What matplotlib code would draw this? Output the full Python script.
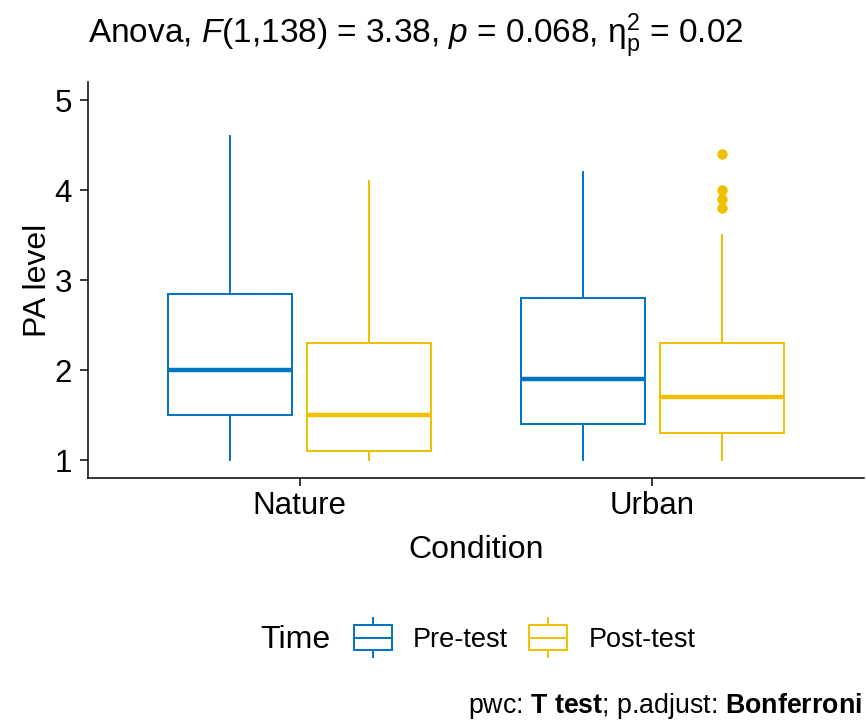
import numpy as np
import matplotlib
matplotlib.use("Agg")
import matplotlib.pyplot as plt
from matplotlib.legend_handler import HandlerBase
from matplotlib.lines import Line2D
from matplotlib.patches import Rectangle

plt.rcParams['font.family'] = ['Liberation Sans', 'DejaVu Sans']
plt.rcParams['mathtext.fontset'] = 'custom'
plt.rcParams['mathtext.rm'] = 'Liberation Sans'
plt.rcParams['mathtext.it'] = 'Liberation Sans:italic'
plt.rcParams['mathtext.bf'] = 'Liberation Sans:bold'

# --- data ---
conditions = ["Nature", "Urban"]
times = ["Pre-test", "Post-test"]
colors = {"Pre-test": "#0073C2", "Post-test": "#EFC000"}

# per condition, per time: whislo, q1, med, q3, whishi
whislo = {"Pre-test": [1.0, 1.0], "Post-test": [1.0, 1.0]}
q1 = {"Pre-test": [1.5, 1.4], "Post-test": [1.1, 1.3]}
med = {"Pre-test": [2.0, 1.9], "Post-test": [1.5, 1.7]}
q3 = {"Pre-test": [2.85, 2.8], "Post-test": [2.3, 2.3]}
whishi = {"Pre-test": [4.6, 4.2], "Post-test": [4.1, 3.5]}
fliers = {"Pre-test": [[], []], "Post-test": [[], [3.8, 3.9, 4.0, 4.4]]}

title = r"Anova, $\mathit{F}$(1,138) = 3.38, $\mathit{p}$ = 0.068, $\mathrm{\eta}_\mathrm{p}^\mathrm{2}$ = 0.02"
caption = r"pwc: $\mathbf{T\ test}$; p.adjust: $\mathbf{Bonferroni}$"

W, H = 866, 722
fig = plt.figure(figsize=(W / 100, H / 100), dpi=100)
ax = fig.add_axes([88 / W, 1 - 478 / H, (864 - 88) / W, (478 - 82) / H])

offsets = {"Pre-test": -0.197, "Post-test": 0.197}
box_w = 0.35
for t in times:
    stats = []
    for i in range(len(conditions)):
        stats.append(dict(whislo=whislo[t][i], q1=q1[t][i], med=med[t][i],
                          q3=q3[t][i], whishi=whishi[t][i], fliers=fliers[t][i]))
    c = colors[t]
    pos = [i + 1 + offsets[t] for i in range(len(conditions))]
    ax.bxp(stats, positions=pos, widths=box_w, showcaps=False, patch_artist=True,
           boxprops=dict(facecolor="white", edgecolor=c, linewidth=1.4),
           whiskerprops=dict(color=c, linewidth=1.4),
           medianprops=dict(color=c, linewidth=3.2, solid_capstyle="butt"),
           flierprops=dict(marker="o", markerfacecolor=c, markeredgecolor=c,
                           markersize=6.5, linestyle="none"),
           manage_ticks=False)

ax.set_xlim(0.4, 2.6)
ax.set_ylim(0.8, 5.2)
ax.set_xticks([1, 2])
ax.set_xticklabels(conditions)
ax.set_yticks([1, 2, 3, 4, 5])
for s in ["top", "right"]:
    ax.spines[s].set_visible(False)
for s in ["left", "bottom"]:
    ax.spines[s].set_linewidth(1.1)
ax.tick_params(axis="both", labelsize=22.5, length=5.5, width=1.1, color="black",
               labelcolor="black")
ax.tick_params(axis="x", pad=4)
ax.tick_params(axis="y", pad=6)
ax.set_xlabel("Condition", fontsize=23, labelpad=10)
ax.set_ylabel("PA level", fontsize=23, labelpad=1)

fig.text(88 / W, 1 - 36 / H, title, fontsize=24, ha="left", va="center")


class BoxHandler(HandlerBase):
    def create_artists(self, legend, orig_handle, xdescent, ydescent, width, height,
                       fontsize, trans):
        c = orig_handle.get_edgecolor()
        x0, y0 = -xdescent, -ydescent
        bh = height * 1.2
        by = y0 + (height - bh) / 2
        rect = Rectangle((x0, by), width, bh, facecolor="white", edgecolor=c,
                         linewidth=1.4, transform=trans)
        mid = Line2D([x0, x0 + width], [y0 + height / 2] * 2, color=c, linewidth=1.4,
                     transform=trans)
        cx = x0 + width / 2
        top = Line2D([cx, cx], [by + bh, by + bh + height * 0.35], color=c,
                     linewidth=1.4, transform=trans)
        bot = Line2D([cx, cx], [by, by - height * 0.35], color=c, linewidth=1.4,
                     transform=trans)
        return [rect, mid, top, bot]


handles = [Rectangle((0, 0), 1, 1, edgecolor=colors[t], facecolor="white") for t in times]
fig.text(260 / W, 1 - 640 / H, "Time", fontsize=23, ha="left", va="center")
fig.legend(handles, times, handler_map={Rectangle: BoxHandler()}, ncol=2,
           loc="center left", bbox_to_anchor=(354 / W, 1 - 640 / H), frameon=False,
           fontsize=19.5, handlelength=1.4, handleheight=0.77, handletextpad=0.78,
           columnspacing=0.78, borderaxespad=0, borderpad=0)

fig.text(862 / W, 1 - 706 / H, caption, fontsize=19.3, ha="right", va="center")

fig.savefig("out.png", dpi=100)
